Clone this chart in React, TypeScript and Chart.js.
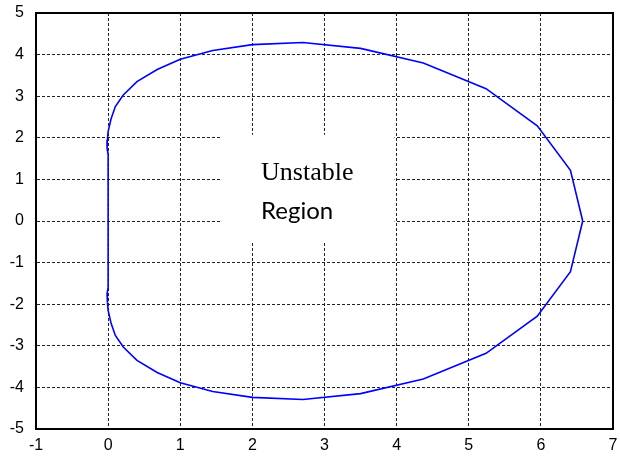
import React, { useEffect, useRef } from "react";
import { Chart, registerables } from "chart.js";

Chart.register(...registerables);

// Boundary of the unstable region (closed curve)
const boundaryX = [
  6.58, 6.41, 5.95, 5.24, 4.37, 3.5, 2.7, 2.0, 1.45, 1.0, 0.68, 0.4, 0.21, 0.1, 0.04, 0.0, -0.01, -0.015, 0.0,
  0.0, -0.015, -0.01, 0.0, 0.04, 0.1, 0.21, 0.4, 0.68, 1.0, 1.45, 2.0, 2.7, 3.5, 4.37, 5.24, 5.95, 6.41, 6.58,
];
const boundaryY = [
  0.0, 1.22, 2.29, 3.18, 3.8, 4.15, 4.29, 4.24, 4.1, 3.89, 3.64, 3.35, 3.03, 2.75, 2.45, 2.15, 1.95, 1.75, 1.6,
  -1.6, -1.75, -1.95, -2.15, -2.45, -2.75, -3.03, -3.35, -3.64, -3.89, -4.1, -4.24, -4.29, -4.15, -3.8, -3.18, -2.29, -1.22, 0.0,
];
const xTicks = [-1, 0, 1, 2, 3, 4, 5, 6, 7];
const yTicks = [-5, -4, -3, -2, -1, 0, 1, 2, 3, 4, 5];
const labelLines = ["Unstable", "Region"];

export default function App() {
  const ref = useRef<HTMLCanvasElement>(null);

  useEffect(() => {
    document.body.style.margin = "0";
    const canvas = ref.current;
    if (!canvas) return;
    const points = boundaryX.map((x, i) => ({ x, y: boundaryY[i] }));

    const overlay = {
      id: "overlay",
      beforeDatasetsDraw(chart: any) {
        const { ctx, scales } = chart;
        const xs = scales.x;
        const ys = scales.y;
        ctx.save();
        const l = xs.getPixelForValue(1.58);
        const r = xs.getPixelForValue(3.97);
        const t = ys.getPixelForValue(2.07);
        const b = ys.getPixelForValue(-0.5);
        ctx.fillStyle = "#ffffff";
        ctx.fillRect(l, t, r - l, b - t);
        ctx.fillStyle = "#000000";
        ctx.textAlign = "left";
        ctx.textBaseline = "alphabetic";
        const tx = xs.getPixelForValue(2.12);
        ctx.font = "26px 'Liberation Serif'";
        ctx.fillText(labelLines[0], tx, ys.getPixelForValue(0.99));
        ctx.font = "24px Lato";
        ctx.fillText(labelLines[1], tx, ys.getPixelForValue(0.05));
        ctx.restore();
      },
      afterDraw(chart: any) {
        const { ctx, chartArea } = chart;
        ctx.save();
        ctx.strokeStyle = "#000000";
        ctx.lineWidth = 2;
        ctx.strokeRect(chartArea.left, chartArea.top, chartArea.right - chartArea.left, chartArea.bottom - chartArea.top);
        ctx.restore();
      },
    };

    const tickFont = { family: "'Liberation Sans', Arial, sans-serif", size: 16 };

    const chart = new Chart(canvas, {
      type: "scatter",
      data: {
        datasets: [
          {
            data: points,
            showLine: true,
            borderColor: "#0000ff",
            backgroundColor: "#0000ff",
            borderWidth: 1.6,
            pointRadius: 0,
            tension: 0,
            fill: false,
          },
        ],
      },
      options: {
        responsive: false,
        animation: false,
        layout: { padding: 0 },
        plugins: { legend: { display: false }, tooltip: { enabled: false } },
        scales: {
          x: {
            type: "linear",
            position: "bottom",
            min: -1,
            max: 7,
            afterBuildTicks: (s: any) => {
              s.ticks = xTicks.map((v) => ({ value: v }));
            },
            afterFit: (s: any) => {
              s.height = 27;
              s.paddingLeft = 0;
              s.paddingRight = 0;
            },
            grid: { color: "#222222", lineWidth: 1, drawTicks: false },
            border: { display: true, color: "#000000", width: 2, dash: [3, 2] },
            ticks: { color: "#000000", font: tickFont, padding: 7, maxRotation: 0, autoSkip: false },
          },
          y: {
            type: "linear",
            position: "left",
            min: -5,
            max: 5,
            afterBuildTicks: (s: any) => {
              s.ticks = yTicks.map((v) => ({ value: v }));
            },
            afterFit: (s: any) => {
              s.width = 36;
              s.paddingTop = 0;
              s.paddingBottom = 0;
            },
            grid: { color: "#222222", lineWidth: 1, drawTicks: false },
            border: { display: true, color: "#000000", width: 2, dash: [3, 2] },
            ticks: { color: "#000000", font: tickFont, padding: 12, autoSkip: false },
          },
          xTop: {
            type: "linear",
            position: "top",
            min: -1,
            max: 7,
            afterFit: (s: any) => {
              s.height = 13;
              s.paddingLeft = 0;
              s.paddingRight = 0;
            },
            grid: { display: false, drawTicks: false },
            border: { display: false },
            ticks: { display: false },
          },
          yRight: {
            type: "linear",
            position: "right",
            min: -5,
            max: 5,
            afterFit: (s: any) => {
              s.width = 7;
              s.paddingTop = 0;
              s.paddingBottom = 0;
            },
            grid: { display: false, drawTicks: false },
            border: { display: false },
            ticks: { display: false },
          },
        },
      },
      plugins: [overlay],
    });

    return () => chart.destroy();
  }, []);

  return <canvas ref={ref} width={620} height={456} style={{ display: "block", width: 620, height: 456 }} />;
}
